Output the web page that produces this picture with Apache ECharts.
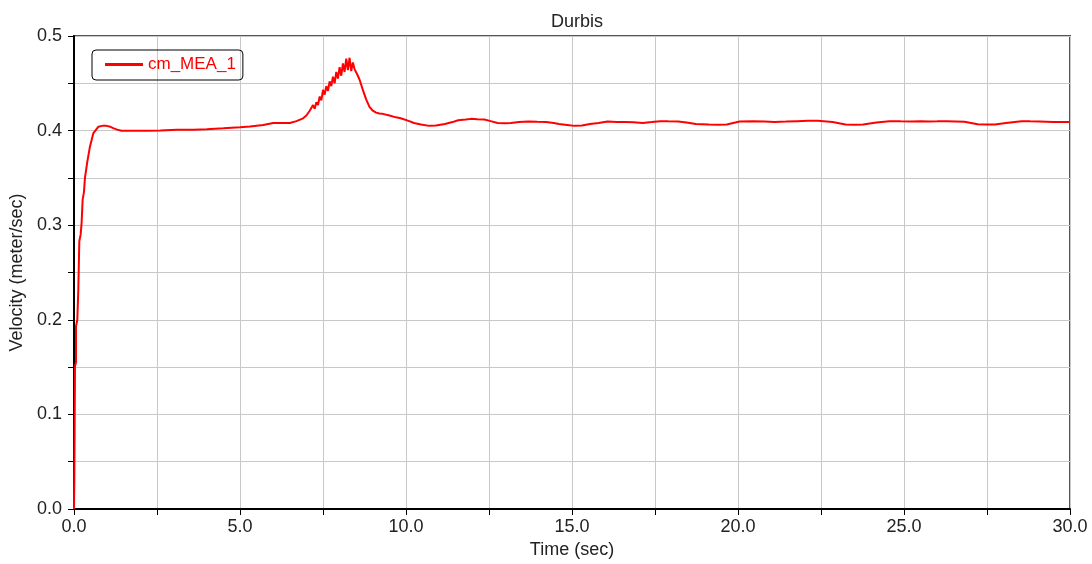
<!DOCTYPE html>
<html><head><meta charset="utf-8">
<script src="https://cdn.jsdelivr.net/npm/echarts@6/dist/echarts.min.js"></script>
<style>html,body{margin:0;padding:0;background:#fff}#c{width:1092px;height:564px}</style>
</head><body><div id="c"></div>
<script>
const title = "Durbis";
const seriesName = "cm_MEA_1";
const xName = "Time (sec)";
const yName = "Velocity (meter/sec)";
const timeSec = [0,0.01,0.03,0.03,0.06,0.06,0.1,0.13,0.16,0.2,0.23,0.26,0.3,0.33,0.4,0.48,0.58,0.73,0.85,0.98,1.1,1.18,1.3,1.43,1.8,2.2,2.6,3.1,3.6,4.0,4.5,5.0,5.3,5.7,6.0,6.5,6.7,6.9,7.0,7.1,7.2,7.25,7.3,7.35,7.4,7.45,7.5,7.55,7.6,7.65,7.7,7.75,7.8,7.85,7.9,7.95,8.0,8.05,8.1,8.15,8.2,8.25,8.3,8.35,8.4,8.45,8.5,8.55,8.6,8.7,8.8,8.9,9.0,9.1,9.2,9.3,9.5,9.7,9.84,10.1,10.24,10.45,10.7,10.9,11.17,11.4,11.57,11.8,11.96,12.15,12.36,12.55,12.76,13.0,13.16,13.4,13.69,13.95,14.22,14.45,14.61,14.85,15.08,15.3,15.54,15.8,16.07,16.35,16.6,16.85,17.13,17.4,17.66,17.9,18.2,18.45,18.73,19.12,19.4,19.66,20.05,20.45,20.8,21.1,21.45,21.78,22.1,22.4,22.85,23.24,23.5,23.77,24.17,24.56,24.9,25.23,25.5,25.75,26.0,26.29,26.55,26.82,27.22,27.5,27.74,28.07,28.54,28.8,29.07,29.5,29.97];
const velocity = [0,0.032,0.034,0.151,0.155,0.193,0.200,0.232,0.283,0.290,0.303,0.327,0.335,0.350,0.367,0.383,0.397,0.404,0.405,0.405,0.404,0.4026,0.401,0.3998,0.3998,0.3998,0.400,0.401,0.401,0.4015,0.4025,0.4036,0.4044,0.406,0.408,0.408,0.410,0.413,0.416,0.421,0.427,0.423,0.430,0.427,0.436,0.432,0.443,0.438,0.447,0.442,0.452,0.447,0.457,0.450,0.462,0.455,0.467,0.458,0.471,0.462,0.476,0.464,0.477,0.463,0.472,0.465,0.465,0.458,0.454,0.443,0.433,0.425,0.421,0.419,0.418,0.4177,0.416,0.414,0.4131,0.410,0.408,0.4065,0.405,0.4055,0.407,0.409,0.411,0.4118,0.4124,0.412,0.4117,0.410,0.408,0.4078,0.408,0.409,0.4097,0.4093,0.409,0.408,0.407,0.406,0.405,0.4055,0.407,0.408,0.4097,0.4092,0.409,0.4088,0.408,0.409,0.410,0.4098,0.4097,0.4085,0.407,0.4064,0.4063,0.4064,0.4097,0.410,0.4095,0.409,0.4095,0.410,0.4103,0.4103,0.409,0.4064,0.4062,0.4064,0.4085,0.410,0.4098,0.4097,0.4098,0.4097,0.4098,0.410,0.4097,0.4093,0.4067,0.4064,0.4064,0.408,0.410,0.4098,0.4097,0.4092,0.409];
const xTicks = {min:0, max:30, step:2.5, labelEvery:5};
const yTicks = {min:0, max:0.5, step:0.05, labelEvery:0.1};

const data = timeSec.map((t,i)=>[t, velocity[i]]);
const font = "'Liberation Sans', Arial, sans-serif";
const isMultiple = (v, m) => Math.abs(v/m - Math.round(v/m)) < 1e-6;
const chart = echarts.init(document.getElementById('c'), null, {renderer:'canvas'});
chart.setOption({
  animation:false,
  backgroundColor:'#fff',
  title:{text:title, left:546, top:8, textStyle:{fontFamily:font, fontSize:18, fontWeight:'normal', color:'#222'}},
  legend:{left:92, top:50, padding:[6,7,7,13], itemWidth:38, itemHeight:3, itemGap:6,
    borderColor:'#000', borderWidth:1, borderRadius:4,
    textStyle:{fontFamily:font, fontSize:17, color:'#ff0000'},
    data:[{name:seriesName, icon:'rect'}]},
  grid:{left:74, right:22, top:36, bottom:54, show:true, borderColor:'#555', borderWidth:2},
  xAxis:{type:'value', min:xTicks.min, max:xTicks.max, interval:xTicks.step,
    name:xName, nameLocation:'middle', nameGap:32, nameTextStyle:{fontFamily:font, fontSize:18, color:'#222'},
    axisLine:{onZero:false, lineStyle:{color:'#000', width:2}},
    axisTick:{show:true, length:6, lineStyle:{color:'#000'}},
    axisLabel:{fontFamily:font, fontSize:18, color:'#222', margin:9,
      formatter:v=> isMultiple(v, xTicks.labelEvery) ? v.toFixed(1) : ''},
    splitLine:{show:true, lineStyle:{color:'#c8c8c8', width:1}}},
  yAxis:{type:'value', min:yTicks.min, max:yTicks.max, interval:yTicks.step,
    name:yName, nameLocation:'middle', nameGap:48, nameTextStyle:{fontFamily:font, fontSize:18, color:'#222'},
    axisLine:{show:true, onZero:false, lineStyle:{color:'#000', width:2}},
    axisTick:{show:true, length:6, lineStyle:{color:'#000'}},
    axisLabel:{fontFamily:font, fontSize:18, color:'#222', margin:12,
      formatter:v=> isMultiple(v, yTicks.labelEvery) ? v.toFixed(1) : ''},
    splitLine:{show:true, lineStyle:{color:'#c8c8c8', width:1}}},
  series:[{name:seriesName, type:'line', data:data, showSymbol:false, symbol:'none',
    lineStyle:{color:'#ff0000', width:2}, itemStyle:{color:'#ff0000'}}]
});
</script></body></html>
